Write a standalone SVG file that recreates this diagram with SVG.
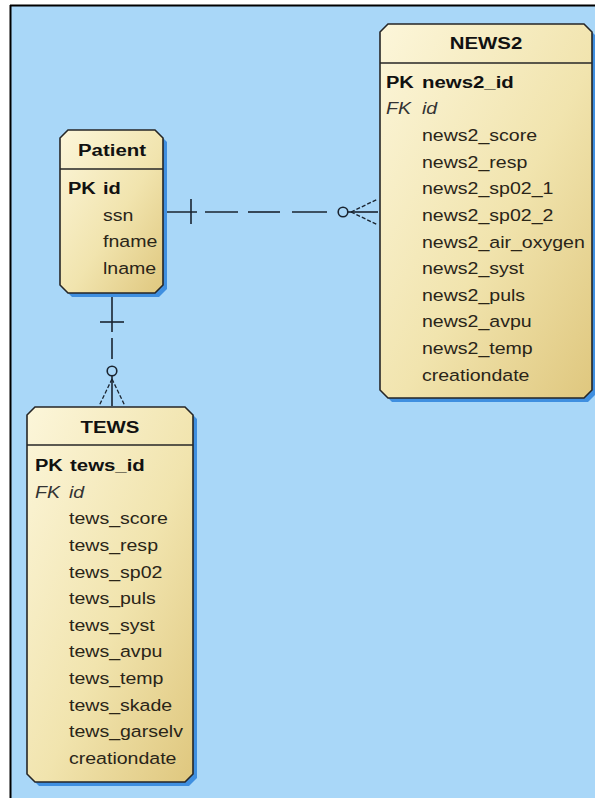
<svg xmlns="http://www.w3.org/2000/svg" width="595" height="798" viewBox="0 0 595 798">
  <defs>
    <linearGradient id="entityFill" x1="0" y1="0" x2="1" y2="1">
      <stop offset="0" stop-color="#fcf6da"/>
      <stop offset="0.55" stop-color="#f1e4ae"/>
      <stop offset="1" stop-color="#dfc77e"/>
    </linearGradient>
    <style>
      .shadow { fill: #3f8fe0; }
      .box { fill: url(#entityFill); stroke: #262626; stroke-width: 1.6; }
      .sep { stroke: #262626; stroke-width: 1.4; }
      .title { font-family: "Liberation Sans", Arial, sans-serif; font-size: 17px; font-weight: bold; fill: #111; text-anchor: middle; }
      .key { font-family: "Liberation Sans", Arial, sans-serif; font-size: 17px; font-weight: bold; fill: #111; }
      .fk { font-family: "Liberation Sans", Arial, sans-serif; font-size: 17px; font-style: italic; fill: #333; }
      .attr { font-family: "Liberation Sans", Arial, sans-serif; font-size: 17px; fill: #2a2518; }
      .rel { stroke: #1a2430; stroke-width: 1.6; fill: none; }
      .relFine { stroke: #1a2430; stroke-width: 1.3; fill: none; stroke-dasharray: 4 2; }
    </style>
  </defs>

  <!-- canvas -->
  <rect x="0" y="0" width="595" height="798" fill="#ffffff"/>
  <rect x="11" y="6" width="584" height="792" fill="#a9d7f8"/>
  <line x1="10.5" y1="5" x2="10.5" y2="798" stroke="#000" stroke-width="2"/>
  <line x1="10" y1="5.5" x2="595" y2="5.5" stroke="#000" stroke-width="2"/>

  <!-- relationships -->
  <g id="connectors">
    <!-- Patient 1 : 0..n NEWS2 -->
    <g id="patient-news2">
      <line class="rel" x1="163" y1="212" x2="197" y2="212"/>
      <line class="rel" x1="191" y1="199" x2="191" y2="224"/>
      <line class="rel" x1="205" y1="212" x2="238" y2="212"/>
      <line class="rel" x1="248" y1="212" x2="280" y2="212"/>
      <line class="rel" x1="292" y1="212" x2="327" y2="212"/>
      <circle class="rel" cx="343" cy="212" r="4.8"/>
      <line class="rel" x1="348" y1="212" x2="378" y2="212"/>
      <line class="relFine" x1="351" y1="212" x2="378" y2="199"/>
      <line class="relFine" x1="351" y1="212" x2="378" y2="225"/>
    </g>
    <!-- Patient 1 : 0..n TEWS -->
    <g id="patient-tews">
      <line class="rel" x1="112" y1="293" x2="112" y2="332"/>
      <line class="rel" x1="100" y1="322" x2="124" y2="322"/>
      <line class="rel" x1="112" y1="338" x2="112" y2="359"/>
      <circle class="rel" cx="112" cy="371" r="4.8"/>
      <line class="rel" x1="112" y1="376" x2="112" y2="406"/>
      <line class="relFine" x1="112" y1="379" x2="99" y2="406"/>
      <line class="relFine" x1="112" y1="379" x2="125" y2="406"/>
    </g>
  </g>

  <!-- Patient entity -->
  <g id="patient">
    <polygon class="shadow" points="72,134 159,134 167,142 167,289 159,297 72,297 64,289 64,142"/>
    <polygon class="box" points="68,130 155,130 163,138 163,285 155,293 68,293 60,285 60,138"/>
    <line class="sep" x1="60" y1="169" x2="163" y2="169"/>
    <text class="title" transform="translate(112 156) scale(1.2 1)">Patient</text>
    <text class="key" transform="translate(68 194) scale(1.18 1)">PK</text>
    <text class="key" transform="translate(103 194) scale(1.18 1)">id</text>
    <text class="attr" transform="translate(103 221) scale(1.15 1)">ssn</text>
    <text class="attr" transform="translate(103 247) scale(1.15 1)">fname</text>
    <text class="attr" transform="translate(103 274) scale(1.15 1)">lname</text>
  </g>

  <!-- NEWS2 entity -->
  <g id="news2">
    <polygon class="shadow" points="392,28 588,28 596,36 596,394 588,402 392,402 384,394 384,36"/>
    <polygon class="box" points="388,24 584,24 592,32 592,390 584,398 388,398 380,390 380,32"/>
    <line class="sep" x1="380" y1="63" x2="592" y2="63"/>
    <text class="title" transform="translate(486 49) scale(1.2 1)">NEWS2</text>
    <text class="key" transform="translate(386 88) scale(1.18 1)">PK</text>
    <text class="key" transform="translate(422 88) scale(1.2 1)">news2_id</text>
    <text class="fk" transform="translate(386 114) scale(1.15 1)">FK</text>
    <text class="fk" transform="translate(422 114) scale(1.15 1)">id</text>
    <text class="attr" transform="translate(422 141) scale(1.15 1)">news2_score</text>
    <text class="attr" transform="translate(422 167.5) scale(1.15 1)">news2_resp</text>
    <text class="attr" transform="translate(422 194) scale(1.15 1)">news2_sp02_1</text>
    <text class="attr" transform="translate(422 221) scale(1.15 1)">news2_sp02_2</text>
    <text class="attr" transform="translate(422 247.5) scale(1.15 1)">news2_air_oxygen</text>
    <text class="attr" transform="translate(422 274) scale(1.15 1)">news2_syst</text>
    <text class="attr" transform="translate(422 300.5) scale(1.15 1)">news2_puls</text>
    <text class="attr" transform="translate(422 327) scale(1.15 1)">news2_avpu</text>
    <text class="attr" transform="translate(422 354) scale(1.15 1)">news2_temp</text>
    <text class="attr" transform="translate(422 380.5) scale(1.15 1)">creationdate</text>
  </g>

  <!-- TEWS entity -->
  <g id="tews">
    <polygon class="shadow" points="39,411 189,411 197,419 197,778 189,786 39,786 31,778 31,419"/>
    <polygon class="box" points="35,407 185,407 193,415 193,774 185,782 35,782 27,774 27,415"/>
    <line class="sep" x1="27" y1="445" x2="193" y2="445"/>
    <text class="title" transform="translate(110 433) scale(1.2 1)">TEWS</text>
    <text class="key" transform="translate(35 471) scale(1.18 1)">PK</text>
    <text class="key" transform="translate(70 471) scale(1.2 1)">tews_id</text>
    <text class="fk" transform="translate(35 497.5) scale(1.15 1)">FK</text>
    <text class="fk" transform="translate(69 497.5) scale(1.15 1)">id</text>
    <text class="attr" transform="translate(69 524) scale(1.15 1)">tews_score</text>
    <text class="attr" transform="translate(69 551) scale(1.15 1)">tews_resp</text>
    <text class="attr" transform="translate(69 577.5) scale(1.15 1)">tews_sp02</text>
    <text class="attr" transform="translate(69 604) scale(1.15 1)">tews_puls</text>
    <text class="attr" transform="translate(69 630.5) scale(1.15 1)">tews_syst</text>
    <text class="attr" transform="translate(69 657) scale(1.15 1)">tews_avpu</text>
    <text class="attr" transform="translate(69 684) scale(1.15 1)">tews_temp</text>
    <text class="attr" transform="translate(69 710.5) scale(1.15 1)">tews_skade</text>
    <text class="attr" transform="translate(69 737) scale(1.15 1)">tews_garselv</text>
    <text class="attr" transform="translate(69 763.5) scale(1.15 1)">creationdate</text>
  </g>
</svg>
